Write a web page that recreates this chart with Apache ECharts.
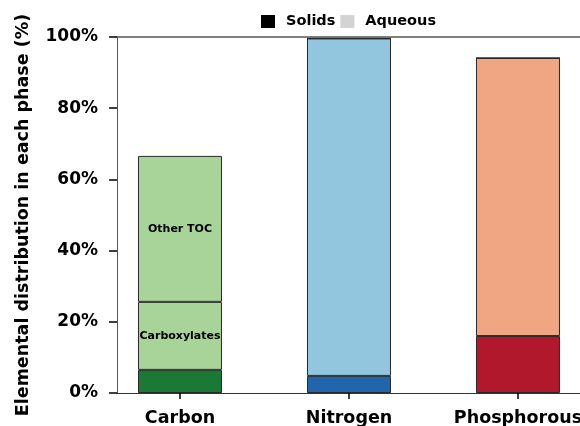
<!DOCTYPE html>
<html><head><meta charset="utf-8">
<script src="https://cdn.jsdelivr.net/npm/echarts@6/dist/echarts.min.js"></script>
<style>html,body{margin:0;padding:0;background:#fff}#c{width:580px;height:426px}</style>
</head><body><div id="c"></div>
<script>
const categories = ['Carbon', 'Nitrogen', 'Phosphorous'];
const solids = [6.5, 4.8, 16.0];
const aqueousLower = [19.1, 94.8, 78.1];   // Carboxylates (C), aqueous N, aqueous P
const aqueousUpper = [41.0, 0, 0];         // Other TOC (C)
const lowerLabels = ['Carboxylates', '', ''];
const upperLabels = ['Other TOC', '', ''];

const solidColors = ['#1a7a35', '#2166ac', '#b2182b'];
const aqueousColors = ['#a8d49a', '#92c5de', '#f0a683'];
const FONT = 'DejaVu Sans';
const border = {borderColor: '#2a2a2a', borderWidth: 1};

// value stored as [y, x] so that the stacked dimension is the y value
function items(vals, colors, labels) {
  return vals.map((v, i) => ({
    value: [v, i],
    itemStyle: Object.assign({color: colors[i]}, border),
    label: labels && labels[i] ? {show: true, formatter: labels[i]} : {show: false}
  }));
}
const lbl = {position: 'inside', color: '#000', fontFamily: FONT, fontWeight: 'bold', fontSize: 11};
const XMIN = -0.3728, XMAX = 2.367;

const chart = echarts.init(document.getElementById('c'));
chart.setOption({
  animation: false,
  textStyle: {fontFamily: FONT},
  legend: {
    top: 14, left: 261, padding: 0,
    itemWidth: 14, itemHeight: 13, itemGap: 5,
    icon: 'rect',
    textStyle: {fontFamily: FONT, fontWeight: 'bold', fontSize: 14.5, color: '#000', padding: [0, 0, 0, 6]},
    data: [
      {name: 'Solids', itemStyle: {color: '#000', borderWidth: 0}},
      {name: 'Aqueous', itemStyle: {color: '#d3d3d3', borderWidth: 0}}
    ]
  },
  grid: {left: 117, right: 0, top: 37, bottom: 33, outerBoundsMode: 'none', containLabel: false},
  xAxis: [{
    type: 'value', min: XMIN, max: XMAX,
    splitLine: {show: false},
    axisLine: {show: true, onZero: false, lineStyle: {color: '#333', width: 1.2}},
    axisTick: {show: true, length: 6, customValues: [0, 1, 2], lineStyle: {color: '#000', width: 1.5}},
    axisLabel: {
      customValues: [0, 1, 2],
      formatter: v => categories[Math.round(v)],
      fontFamily: FONT, fontWeight: 'bold', fontSize: 17.5, color: '#000', margin: 16
    }
  }, {
    type: 'value', position: 'top', min: XMIN, max: XMAX,
    splitLine: {show: false},
    axisLine: {show: true, onZero: false, lineStyle: {color: '#555', width: 1.5}},
    axisTick: {show: false}, axisLabel: {show: false}
  }],
  yAxis: {
    type: 'value', min: 0, max: 100, interval: 20,
    name: 'Elemental distribution in each phase (%)',
    nameLocation: 'middle', nameGap: 85,
    nameTextStyle: {fontFamily: FONT, fontWeight: 'bold', fontSize: 17.5, color: '#000'},
    splitLine: {show: false},
    axisLine: {show: true, onZero: false, lineStyle: {color: '#555', width: 1}},
    axisTick: {show: true, length: 8, lineStyle: {color: '#000', width: 1.5}},
    axisLabel: {formatter: '{value}%', fontFamily: FONT, fontWeight: 'bold', fontSize: 17, color: '#000', margin: 19}
  },
  series: [
    {name: 'Solids', type: 'bar', stack: 'a', barWidth: 84, encode: {x: 1, y: 0},
     data: items(solids, solidColors)},
    {name: 'Aqueous', type: 'bar', stack: 'a', barWidth: 84, encode: {x: 1, y: 0},
     label: lbl, data: items(aqueousLower, aqueousColors, lowerLabels)},
    {name: 'Aqueous', type: 'bar', stack: 'a', barWidth: 84, encode: {x: 1, y: 0},
     label: lbl, data: items(aqueousUpper, aqueousColors, upperLabels)}
  ]
});
</script></body></html>
